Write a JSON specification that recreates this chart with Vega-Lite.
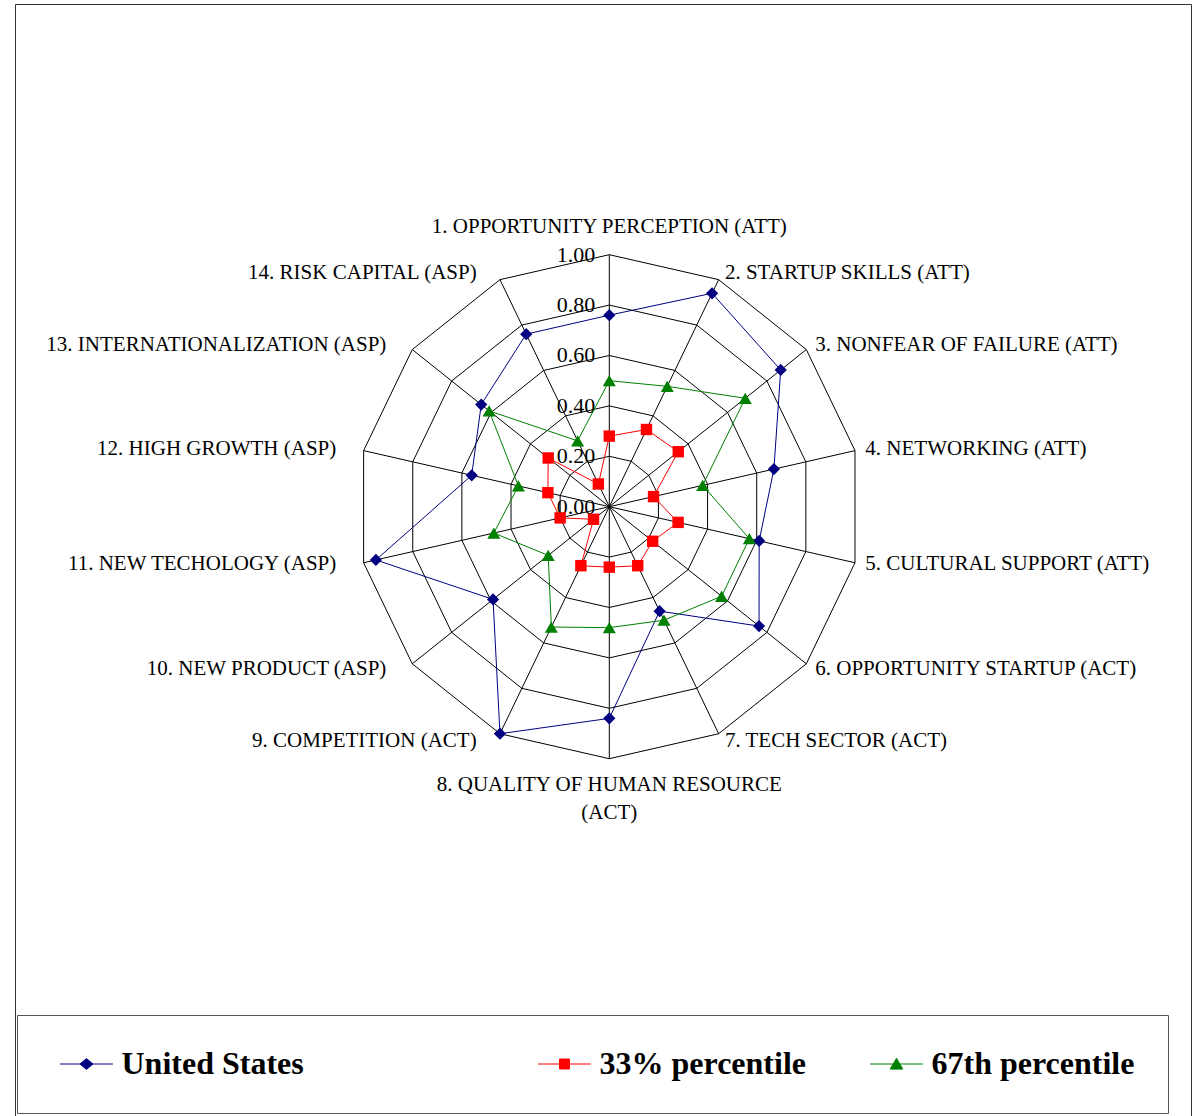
{
  "$schema": "https://vega.github.io/schema/vega-lite/v6.json",
  "width": 1176,
  "height": 1112,
  "autosize": {"type": "none"},
  "padding": {"left": 15, "top": 4, "right": 11, "bottom": 0},
  "background": "white",
  "config": {
    "view": {"stroke": "#333333", "strokeWidth": 1},
    "font": "Liberation Serif",
    "legend": {
      "orient": "none",
      "legendX": 2,
      "legendY": 1011,
      "direction": "horizontal",
      "columnPadding": 54,
      "padding": 33,
      "strokeColor": "#555555",
      "fillColor": "white",
      "cornerRadius": 0,
      "labelFont": "Liberation Serif",
      "labelFontSize": 32,
      "labelFontWeight": "bold",
      "labelColor": "black",
      "labelOffset": 19,
      "symbolOffset": 20.5,
      "labelLimit": 800,
      "symbolSize": 144,
      "symbolStrokeWidth": 1,
      "symbolOpacity": 1
    }
  },
  "datasets": {
    "gem": [
      {"k": 0, "indicator": "1. OPPORTUNITY PERCEPTION (ATT)", "United States": 0.76, "33% percentile": 0.28, "67th percentile": 0.50},
      {"k": 1, "indicator": "2. STARTUP SKILLS  (ATT)", "United States": 0.94, "33% percentile": 0.34, "67th percentile": 0.53},
      {"k": 2, "indicator": "3. NONFEAR OF FAILURE (ATT)", "United States": 0.87, "33% percentile": 0.35, "67th percentile": 0.69},
      {"k": 3, "indicator": "4. NETWORKING (ATT)", "United States": 0.67, "33% percentile": 0.18, "67th percentile": 0.38},
      {"k": 4, "indicator": "5. CULTURAL SUPPORT (ATT)", "United States": 0.61, "33% percentile": 0.28, "67th percentile": 0.57},
      {"k": 5, "indicator": "6. OPPORTUNITY STARTUP (ACT)", "United States": 0.76, "33% percentile": 0.22, "67th percentile": 0.57},
      {"k": 6, "indicator": "7. TECH SECTOR (ACT)", "United States": 0.46, "33% percentile": 0.26, "67th percentile": 0.50},
      {"k": 7, "indicator": "8. QUALITY OF HUMAN RESOURCE\n(ACT)", "United States": 0.84, "33% percentile": 0.24, "67th percentile": 0.48},
      {"k": 8, "indicator": "9. COMPETITION (ACT)", "United States": 1.00, "33% percentile": 0.26, "67th percentile": 0.53},
      {"k": 9, "indicator": "10. NEW PRODUCT (ASP)", "United States": 0.59, "33% percentile": 0.08, "67th percentile": 0.31},
      {"k": 10, "indicator": "11. NEW TECHOLOGY (ASP)", "United States": 0.95, "33% percentile": 0.20, "67th percentile": 0.47},
      {"k": 11, "indicator": "12. HIGH GROWTH (ASP)", "United States": 0.56, "33% percentile": 0.25, "67th percentile": 0.37},
      {"k": 12, "indicator": "13. INTERNATIONALIZATION (ASP)", "United States": 0.65, "33% percentile": 0.31, "67th percentile": 0.61},
      {"k": 13, "indicator": "14. RISK CAPITAL (ASP)", "United States": 0.76, "33% percentile": 0.10, "67th percentile": 0.29}
    ],
    "rings": [
      {"level": 0.2, "k": [0, 1, 2, 3, 4, 5, 6, 7, 8, 9, 10, 11, 12, 13]},
      {"level": 0.4, "k": [0, 1, 2, 3, 4, 5, 6, 7, 8, 9, 10, 11, 12, 13]},
      {"level": 0.6, "k": [0, 1, 2, 3, 4, 5, 6, 7, 8, 9, 10, 11, 12, 13]},
      {"level": 0.8, "k": [0, 1, 2, 3, 4, 5, 6, 7, 8, 9, 10, 11, 12, 13]},
      {"level": 1.0, "k": [0, 1, 2, 3, 4, 5, 6, 7, 8, 9, 10, 11, 12, 13]}
    ],
    "ticks": [
      {"level": 0.0}, {"level": 0.2}, {"level": 0.4}, {"level": 0.6}, {"level": 0.8}, {"level": 1.0}
    ]
  },
  "encoding": {
    "x": {"field": "x", "type": "quantitative", "scale": {"domain": [-2.3583, 2.3083], "nice": false, "zero": false}, "axis": null},
    "y": {"field": "y", "type": "quantitative", "scale": {"domain": [-2.4179, 1.9948], "nice": false, "zero": false}, "axis": null}
  },
  "layer": [
    {
      "data": {"name": "rings"},
      "transform": [
        {"flatten": ["k"]},
        {"calculate": "datum.level * sin(2 * PI * datum.k / 14)", "as": "x"},
        {"calculate": "datum.level * cos(2 * PI * datum.k / 14)", "as": "y"}
      ],
      "mark": {"type": "line", "interpolate": "linear-closed", "color": "black", "strokeWidth": 1},
      "encoding": {
        "detail": {"field": "level", "type": "nominal"},
        "order": {"field": "k", "type": "quantitative"}
      }
    },
    {
      "data": {"name": "gem"},
      "transform": [
        {"calculate": "sin(2 * PI * datum.k / 14)", "as": "x"},
        {"calculate": "cos(2 * PI * datum.k / 14)", "as": "y"}
      ],
      "mark": {"type": "rule", "color": "black", "strokeWidth": 1},
      "encoding": {"x2": {"datum": 0}, "y2": {"datum": 0}}
    },
    {
      "data": {"name": "ticks"},
      "transform": [
        {"calculate": "0", "as": "x"},
        {"calculate": "datum.level", "as": "y"}
      ],
      "mark": {"type": "text", "align": "right", "baseline": "middle", "dx": -14, "font": "Liberation Serif", "fontSize": 22, "color": "black"},
      "encoding": {"text": {"field": "level", "type": "quantitative", "format": ".2f"}}
    },
    {
      "data": {"name": "gem"},
      "transform": [
        {"filter": "datum.k == 0"},
        {"calculate": "1.03 * sin(2 * PI * datum.k / 14)", "as": "x"},
        {"calculate": "1.03 * cos(2 * PI * datum.k / 14)", "as": "y"}
      ],
      "mark": {"type": "text", "align": "center", "baseline": "middle", "dy": -20, "font": "Liberation Serif", "fontSize": 21, "color": "black"},
      "encoding": {"text": {"field": "indicator", "type": "nominal"}}
    },
    {
      "data": {"name": "gem"},
      "transform": [
        {"filter": "datum.k >= 1 && datum.k <= 6"},
        {"calculate": "1.03 * sin(2 * PI * datum.k / 14)", "as": "x"},
        {"calculate": "1.03 * cos(2 * PI * datum.k / 14)", "as": "y"}
      ],
      "mark": {"type": "text", "align": "left", "baseline": "middle", "dx": 3, "font": "Liberation Serif", "fontSize": 21, "color": "black"},
      "encoding": {"text": {"field": "indicator", "type": "nominal"}}
    },
    {
      "data": {"name": "gem"},
      "transform": [
        {"filter": "datum.k == 7"},
        {"calculate": "1.03 * sin(2 * PI * datum.k / 14)", "as": "x"},
        {"calculate": "1.03 * cos(2 * PI * datum.k / 14)", "as": "y"}
      ],
      "mark": {"type": "text", "align": "center", "baseline": "top", "dy": 8, "lineBreak": "\n", "lineHeight": 28, "font": "Liberation Serif", "fontSize": 21, "color": "black"},
      "encoding": {"text": {"field": "indicator", "type": "nominal"}}
    },
    {
      "data": {"name": "gem"},
      "transform": [
        {"filter": "datum.k >= 8"},
        {"calculate": "1.03 * sin(2 * PI * datum.k / 14)", "as": "x"},
        {"calculate": "1.03 * cos(2 * PI * datum.k / 14)", "as": "y"}
      ],
      "mark": {"type": "text", "align": "right", "baseline": "middle", "dx": -20, "font": "Liberation Serif", "fontSize": 21, "color": "black"},
      "encoding": {"text": {"field": "indicator", "type": "nominal"}}
    },
    {
      "data": {"name": "gem"},
      "transform": [
        {"fold": ["United States", "33% percentile", "67th percentile"], "as": ["series", "value"]},
        {"calculate": "datum.value * sin(2 * PI * datum.k / 14)", "as": "x"},
        {"calculate": "datum.value * cos(2 * PI * datum.k / 14)", "as": "y"}
      ],
      "mark": {"type": "line", "interpolate": "linear-closed", "strokeWidth": 1},
      "encoding": {
        "color": {"field": "series", "type": "nominal", "scale": {"domain": ["United States", "33% percentile", "67th percentile"], "range": ["#000080", "#FF0000", "#008000"]},
          "legend": {
            "title": null,
            "encode": {
              "symbols": {
                "update": {
                  "shape": {"signal": "datum.value == 'United States' ? 'M64.1,0L64.101,0M-4.4,0H4.4M-1.08,0L0,-0.9L1.08,0L0,0.9Z' : datum.value == '33% percentile' ? 'M-4.4,0H4.4M-0.83,-0.83H0.83V0.83H-0.83Z' : 'M-4.4,0H4.4M0,-0.95L1.05,0.85H-1.05Z'"},
                  "fill": {"signal": "scale('color', datum.value)"},
                  "stroke": {"signal": "scale('color', datum.value)"},
                  "strokeWidth": {"value": 1},
                  "size": {"value": 144},
                  "opacity": {"value": 1}
                }
              }
            }
          }
        },
        "order": {"field": "k", "type": "quantitative"}
      }
    },
    {
      "data": {"name": "gem"},
      "transform": [
        {"calculate": "datum['United States'] * sin(2 * PI * datum.k / 14)", "as": "x"},
        {"calculate": "datum['United States'] * cos(2 * PI * datum.k / 14)", "as": "y"}
      ],
      "mark": {"type": "point", "shape": "diamond", "filled": true, "size": 150, "opacity": 1, "color": "#000080"}
    },
    {
      "data": {"name": "gem"},
      "transform": [
        {"calculate": "datum['33% percentile'] * sin(2 * PI * datum.k / 14)", "as": "x"},
        {"calculate": "datum['33% percentile'] * cos(2 * PI * datum.k / 14)", "as": "y"}
      ],
      "mark": {"type": "point", "shape": "square", "filled": true, "size": 130, "opacity": 1, "color": "#FF0000"}
    },
    {
      "data": {"name": "gem"},
      "transform": [
        {"calculate": "datum['67th percentile'] * sin(2 * PI * datum.k / 14)", "as": "x"},
        {"calculate": "datum['67th percentile'] * cos(2 * PI * datum.k / 14)", "as": "y"}
      ],
      "mark": {"type": "point", "shape": "triangle-up", "filled": true, "size": 170, "opacity": 1, "color": "#008000"}
    }
  ]
}
